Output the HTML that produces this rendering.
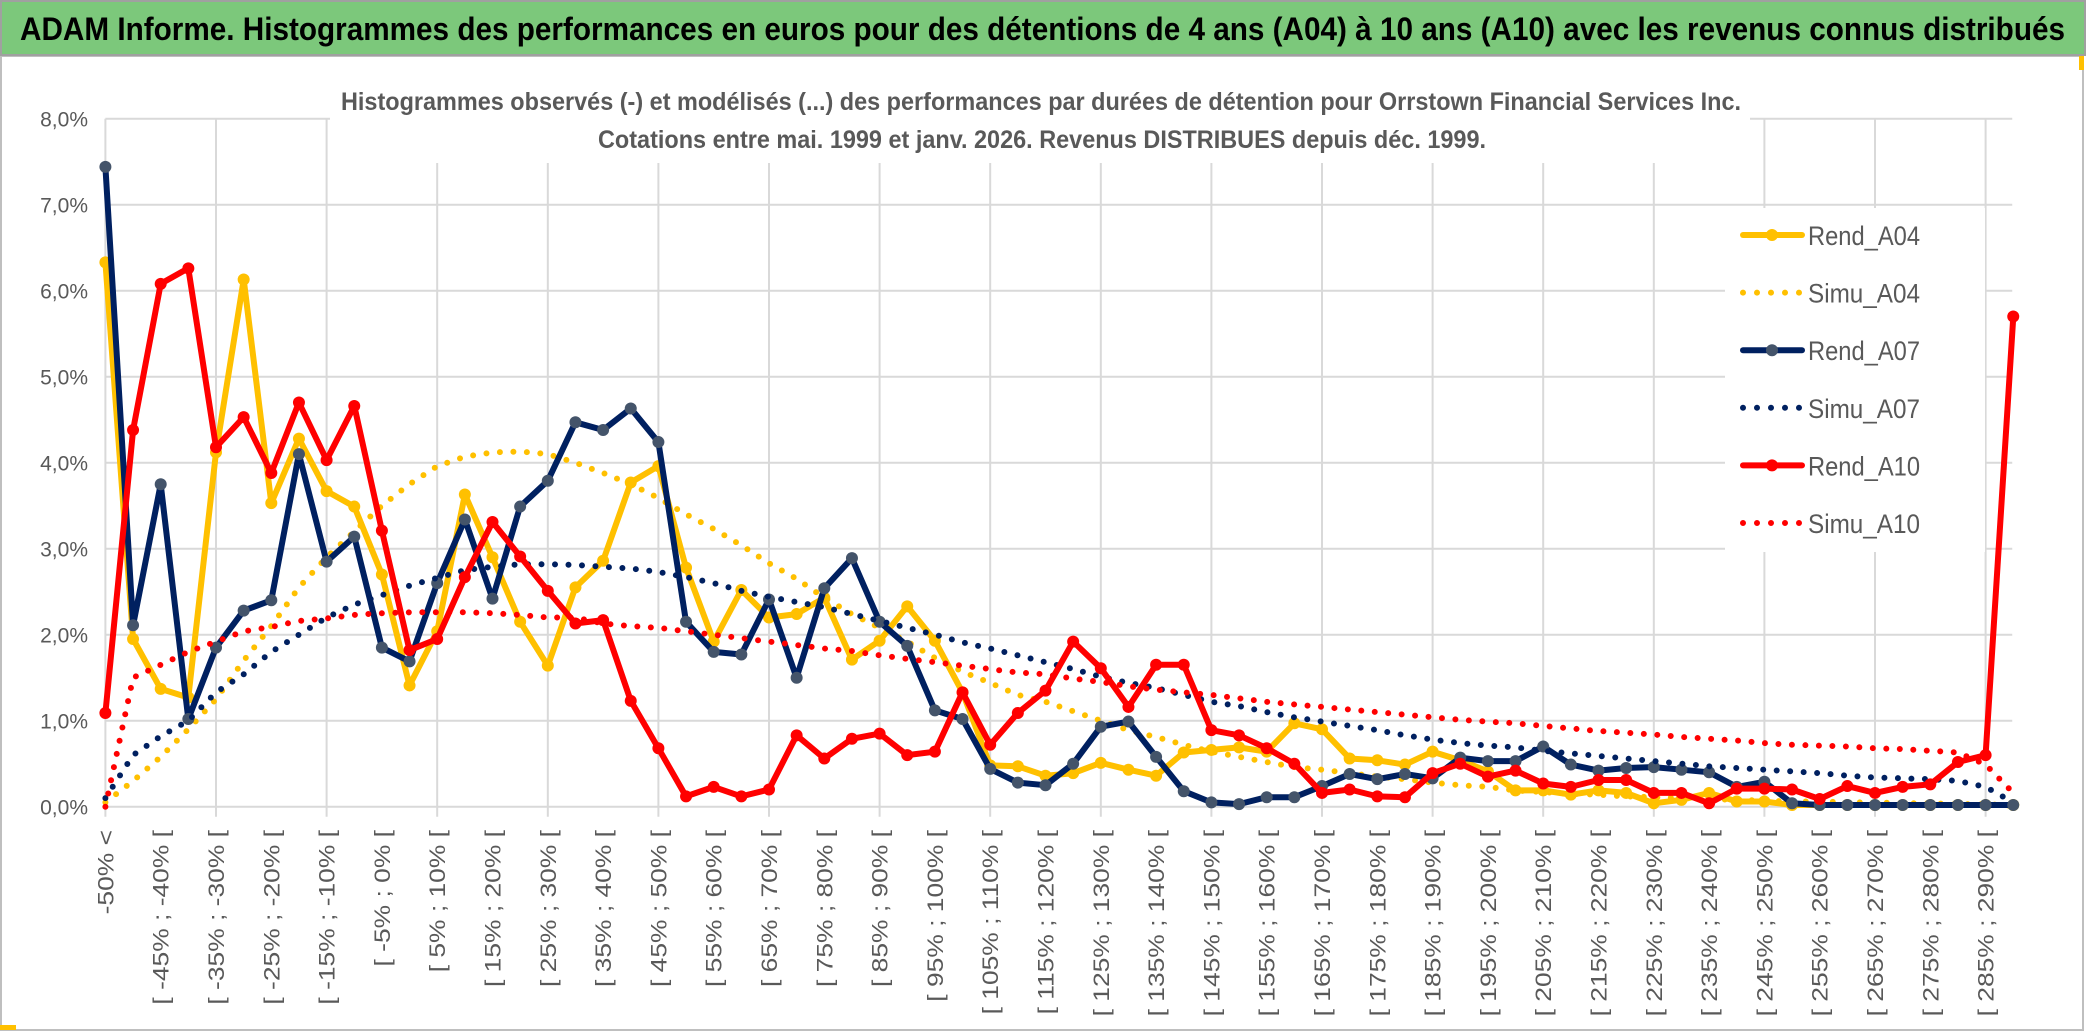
<!DOCTYPE html>
<html><head><meta charset="utf-8"><style>
html,body{margin:0;padding:0;background:#fff;}
svg{display:block;font-family:"Liberation Sans",sans-serif;}
</style></head><body>
<svg id="chart" width="2086" height="1033" viewBox="0 0 2086 1033" xmlns="http://www.w3.org/2000/svg">
<rect x="0" y="0" width="2086" height="1033" fill="#fff"/>
<rect x="1" y="56" width="2082" height="974" fill="#fff" stroke="#bfbfbf" stroke-width="2"/>
<rect x="1" y="1" width="2084" height="54" fill="#7cc87b" stroke="#a0a0a0" stroke-width="2"/>
<text x="20" y="40" font-size="32" font-weight="bold" fill="#000" textLength="2045" lengthAdjust="spacingAndGlyphs">ADAM Informe. Histogrammes des performances en euros pour des détentions de 4 ans (A04) à 10 ans (A10) avec les revenus connus distribués</text>
<rect x="0" y="1025" width="16" height="5" fill="#ffc000"/>
<rect x="2079" y="56" width="5" height="14" fill="#ffc000"/>
<g id="grid"></g>
<rect x="330" y="78" width="1420" height="85" fill="#fff"/>
<text x="1041" y="110" font-size="25" font-weight="bold" fill="#595959" text-anchor="middle" textLength="1400" lengthAdjust="spacingAndGlyphs">Histogrammes observés (-) et modélisés (...) des performances par durées de détention pour Orrstown Financial Services Inc.</text>
<text x="1042" y="148" font-size="25" font-weight="bold" fill="#595959" text-anchor="middle" textLength="888" lengthAdjust="spacingAndGlyphs">Cotations entre mai. 1999 et janv. 2026. Revenus DISTRIBUES depuis déc. 1999.</text>
<g id="axes"></g>
<g id="series"></g>
<g id="legend"></g>
</svg>
<script>
const yTicks = [0,1,2,3,4,5,6,7,8];
const categories = ["-50% <"];
for (let k = 1; k <= 68; k++) categories.push("[ " + (-55 + 5*k) + "% ; " + (-50 + 5*k) + "% [");
categories.push("> 290%");
const rendA04 = [6.33,1.95,1.37,1.27,4.12,6.13,3.53,4.28,3.67,3.49,2.70,1.41,2.04,3.63,2.90,2.15,1.64,2.55,
 2.86,3.77,3.96,2.78,1.92,2.52,2.20,2.24,2.43,1.71,1.93,2.33,1.93,1.33,0.48,0.47,0.36,0.39,
 0.51,0.43,0.36,0.63,0.66,0.69,0.64,0.97,0.90,0.56,0.54,0.49,0.64,0.54,0.41,0.19,0.19,
 0.14,0.19,0.16,0.04,0.08,0.16,0.06,0.06,0.02,0.02,0.02,0.02,0.02,0.02,0.02,0.02,0.02];
const simuA04 = [0.05,0.3,0.58,0.9,1.25,1.7,2.1,2.55,2.9,3.2,3.5,3.75,3.96,4.07,4.12,4.13,4.1,4.0,
 3.88,3.75,3.59,3.4,3.23,3.04,2.83,2.65,2.43,2.24,2.08,1.92,1.73,1.57,1.44,1.3,1.22,1.11,
 1.0,0.89,0.81,0.72,0.64,0.58,0.52,0.46,0.43,0.39,0.35,0.32,0.28,0.25,0.23,0.19,0.17,
 0.15,0.14,0.12,0.11,0.1,0.09,0.08,0.07,0.06,0.06,0.05,0.05,0.04,0.04,0.03,0.03,0.01];
const rendA07 = [7.44,2.11,3.75,1.02,1.85,2.28,2.40,4.10,2.85,3.14,1.85,1.69,2.60,3.34,2.42,3.49,3.79,4.47,
 4.38,4.63,4.24,2.15,1.80,1.77,2.41,1.50,2.54,2.89,2.15,1.87,1.12,1.02,0.44,0.28,0.25,0.50,
 0.93,0.99,0.58,0.18,0.05,0.03,0.11,0.11,0.24,0.38,0.32,0.38,0.33,0.57,0.53,0.53,0.70,
 0.49,0.42,0.45,0.46,0.43,0.40,0.23,0.29,0.04,0.02,0.02,0.02,0.02,0.02,0.02,0.02,0.02];
const simuA07 = [0.1,0.6,0.82,1.0,1.33,1.54,1.8,2.0,2.2,2.35,2.46,2.57,2.66,2.75,2.79,2.82,2.82,2.81,
 2.79,2.77,2.73,2.67,2.6,2.51,2.44,2.38,2.32,2.24,2.16,2.08,2.0,1.91,1.84,1.76,1.68,1.6,
 1.51,1.44,1.38,1.3,1.22,1.17,1.1,1.04,0.99,0.94,0.89,0.83,0.78,0.74,0.71,0.69,0.65,
 0.62,0.59,0.56,0.53,0.5,0.47,0.45,0.43,0.41,0.39,0.36,0.34,0.33,0.32,0.3,0.23,0.05];
const rendA10 = [1.09,4.38,6.08,6.26,4.18,4.53,3.88,4.70,4.03,4.66,3.21,1.82,1.95,2.67,3.31,2.91,2.51,2.13,
 2.17,1.23,0.68,0.12,0.23,0.12,0.20,0.83,0.56,0.79,0.85,0.60,0.64,1.33,0.72,1.09,1.35,1.92,
 1.61,1.16,1.65,1.65,0.89,0.83,0.68,0.50,0.16,0.20,0.12,0.11,0.39,0.50,0.35,0.42,0.27,
 0.23,0.31,0.31,0.16,0.16,0.04,0.21,0.21,0.20,0.09,0.24,0.16,0.23,0.26,0.52,0.60,5.70];
const simuA10 = [0.0,1.5,1.65,1.8,1.92,2.04,2.09,2.16,2.19,2.23,2.25,2.26,2.26,2.26,2.25,2.23,2.2,2.2,
 2.13,2.1,2.08,2.04,2.0,1.96,1.92,1.88,1.84,1.81,1.76,1.72,1.68,1.64,1.6,1.56,1.54,1.49,
 1.45,1.4,1.36,1.33,1.3,1.26,1.22,1.19,1.16,1.13,1.1,1.07,1.04,1.01,0.99,0.97,0.94,
 0.91,0.88,0.86,0.84,0.81,0.79,0.77,0.74,0.72,0.71,0.7,0.68,0.67,0.65,0.63,0.49,0.16];

const NS = "http://www.w3.org/2000/svg";
const X0 = 105.4, DX = 27.65, Y0 = 806.7, DY = 86;
function xScale(i){ return X0 + DX*i; }
function yScale(v){ return Y0 - DY*v; }
function mk(tag, attrs, parent){ const e = document.createElementNS(NS, tag); for (const k in attrs) e.setAttribute(k, attrs[k]); parent.appendChild(e); return e; }

const grid = document.getElementById('grid');
const axes = document.getElementById('axes');
const xEnd = xScale(69) - 1;
yTicks.forEach(t => {
  const l = mk('line', {x1: X0, x2: xEnd, y1: yScale(t), y2: yScale(t), stroke: '#d9d9d9', 'stroke-width': 2}, grid);
  
  
  const tx = mk('text', {x: 88, y: yScale(t) + 8, 'font-size': 21, fill: '#595959', 'text-anchor': 'end'}, axes);
  
  
  tx.textContent = t.toFixed(1).replace('.', ',') + '%';
});
for (let i = 0; i < categories.length; i += 4) {
  const l = mk('line', {x1: xScale(i), x2: xScale(i), y1: yScale(8), y2: Y0 + 10, stroke: '#d9d9d9', 'stroke-width': 2}, grid);
  
  
}
categories.forEach((c, i) => {
  if (i % 2 !== 0 || i > 68) return;
  const x = xScale(i) + 8, y = 830;
  const tx = mk('text', {x: x, y: y, 'font-size': 22, fill: '#595959', 'text-anchor': 'end', transform: 'rotate(-90 ' + x + ' ' + y + ')'}, axes);
  
  
  tx.textContent = c;
  const len = tx.getComputedTextLength();
  if (len > 0) { tx.setAttribute('textLength', (len * 1.2).toFixed(1)); tx.setAttribute('lengthAdjust', 'spacingAndGlyphs'); }
});

const seriesG = document.getElementById('series');
function drawLine(vals, color, name, markerFill){
  const pts = vals.map((v, i) => xScale(i).toFixed(1) + ',' + yScale(v).toFixed(1)).join(' ');
  const p = mk('polyline', {points: pts, fill: 'none', stroke: color, 'stroke-width': 6, 'stroke-linejoin': 'round'}, seriesG);
  
  
  vals.forEach((v, i) => {
    const m = mk('circle', {cx: xScale(i), cy: yScale(v), r: 6, fill: markerFill}, seriesG);
    
    
  });
}
function drawDots(vals, color, name){
  const pts = vals.map((v, i) => xScale(i).toFixed(1) + ',' + yScale(v).toFixed(1)).join(' ');
  const p = mk('polyline', {points: pts, fill: 'none', stroke: color, 'stroke-width': 6, 'stroke-linecap': 'round', 'stroke-dasharray': '0 13.5'}, seriesG);
  
  
}
drawLine(rendA04, '#ffc000', 'rend-a04', '#ffc000');
drawDots(simuA04, '#ffc000', 'simu-a04');
drawLine(rendA07, '#002060', 'rend-a07', '#44546a');
drawDots(simuA07, '#002060', 'simu-a07');
drawLine(rendA10, '#ff0000', 'rend-a10', '#ff0000');
drawDots(simuA10, '#ff0000', 'simu-a10');

const legend = document.getElementById('legend');
mk('rect', {x: 1725, y: 208, width: 260, height: 344, fill: '#fff'}, legend);
const legendItems = [
  ['Rend_A04', '#ffc000', false, '#ffc000'],
  ['Simu_A04', '#ffc000', true, null],
  ['Rend_A07', '#002060', false, '#44546a'],
  ['Simu_A07', '#002060', true, null],
  ['Rend_A10', '#ff0000', false, '#ff0000'],
  ['Simu_A10', '#ff0000', true, null]
];
legendItems.forEach((it, k) => {
  const y = 235 + 57.6*k;
  const g = mk('g', {}, legend);
  
  
  if (it[2]) {
    mk('line', {x1: 1743, x2: 1800, y1: y, y2: y, stroke: it[1], 'stroke-width': 6, 'stroke-linecap': 'round', 'stroke-dasharray': '0 14'}, g);
  } else {
    mk('line', {x1: 1743, x2: 1802, y1: y, y2: y, stroke: it[1], 'stroke-width': 6, 'stroke-linecap': 'round'}, g);
    mk('circle', {cx: 1772, cy: y, r: 6, fill: it[3]}, g);
  }
  const t = mk('text', {x: 1808, y: y + 10, 'font-size': 27, fill: '#595959', textLength: 112, lengthAdjust: 'spacingAndGlyphs'}, g);
  t.textContent = it[0];
});
</script>
</body></html>
